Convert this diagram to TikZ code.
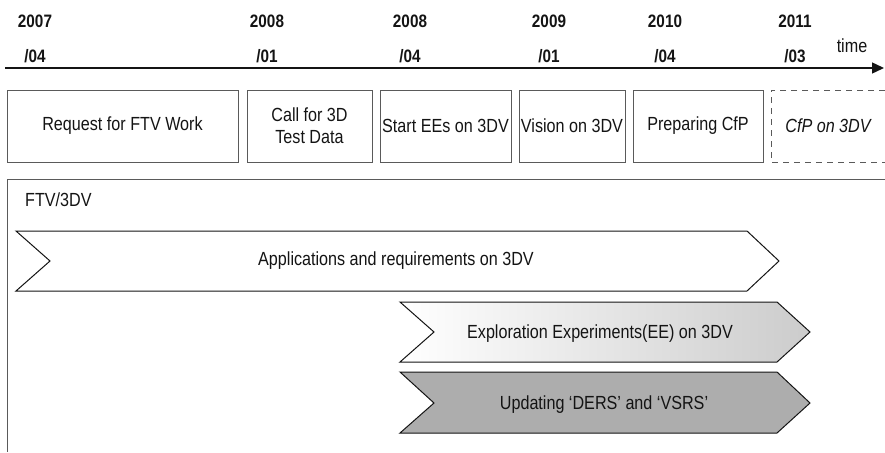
\documentclass[tikz,border=0pt]{standalone}
\usepackage{fontspec}
\setmainfont{Liberation Sans}[FakeStretch=0.85]
\usepackage{xcolor}
\definecolor{tlblack}{RGB}{20,20,20}
\definecolor{tlgray}{RGB}{90,90,90}
\usetikzlibrary{arrows.meta, positioning, calc}

\begin{document}
\begin{tikzpicture}[x=1pt, y=-1pt,
  yrlabel/.style={font=\fontsize{18}{20}\selectfont\bfseries, text=tlblack, inner sep=0pt},
  molabel/.style={font=\fontsize{18}{20}\selectfont\bfseries, text=tlblack, inner sep=0pt},
  evbox/.style={draw=tlgray, line width=0.9pt, minimum height=72pt, inner sep=0pt, align=center,
    font=\fontsize{19}{22}\selectfont, text=tlblack},
  chev/.style={draw=tlblack, line width=1pt, line join=miter},
  chevtext/.style={font=\fontsize{19}{20}\selectfont, text=tlblack, inner sep=0pt}]
  \useasboundingbox (0,0) rectangle (885,452);

  % --- Time axis ---
  \coordinate (t0) at (5,68);
  \coordinate (t1) at (884,68);
  \draw[-{Triangle[length=12pt,width=11pt]}, line width=1.4pt, tlblack] (t0) -- (t1);
  \node[font=\fontsize{19}{20}\selectfont, text=tlblack, inner sep=0pt] (time) at (852,46) {time};
  \foreach \yr/\mo/\xx [count=\i] in {2007/04/35, 2008/01/267, 2008/04/410, 2009/01/549, 2010/04/665, 2011/03/795}{
    \node[yrlabel] (yr\i) at (\xx,21) {\yr};
    \node[molabel] (mo\i) at (\xx,56) {/\mo};
  }

  % --- Milestone boxes ---
  \node[evbox, minimum width=231pt] (req)    at (122.5,126) {Request for FTV Work};
  \node[evbox, minimum width=125pt] (call)   at (309.5,126) {Call for 3D\\Test Data};
  \node[evbox, minimum width=131pt] (start)  at (445.5,126) {Start EEs on 3DV};
  \node[evbox, minimum width=106pt] (vision) at (572,126)   {Vision on 3DV};
  \node[evbox, minimum width=130pt] (prep)   at (698,126)   {Preparing CfP};
  % open dashed box at the right edge
  \draw[tlgray, line width=0.9pt, dash pattern=on 6pt off 5pt] (885,90) -- (771,90) -- (771,162) -- (885,162);
  \node[font=\fontsize{19}{20}\selectfont\itshape, text=tlblack, inner sep=0pt] (cfp) at (828,126) {CfP on 3DV};

  % --- FTV/3DV frame ---
  \draw[tlgray, line width=0.9pt] (885,179) -- (7,179) -- (7,452);
  \node[font=\fontsize{19}{20}\selectfont, text=tlblack, inner sep=0pt, anchor=west] (ftv) at (25,200) {FTV/3DV};

  % Applications chevron
  \draw[chev, fill=white] (16,231) -- (747,231) -- (779,261) -- (747,291) -- (16,291) -- (50,261) -- cycle;
  \node[chevtext] (app) at (396,261) {Applications and requirements on 3DV};
  % Exploration experiments chevron
  \draw[chev, left color=white, right color=black!20] (400,302) -- (777,302) -- (810,332) -- (777,362) -- (400,362) -- (434,332) -- cycle;
  \node[chevtext] (expl) at (600,334) {Exploration Experiments(EE) on 3DV};
  % Software update chevron
  \draw[chev, fill=black!32] (400,372) -- (777,372) -- (810,403) -- (777,433) -- (400,433) -- (434,403) -- cycle;
  \node[chevtext] (upd) at (604,405) {Updating `DERS' and `VSRS'};
\end{tikzpicture}
\end{document}
